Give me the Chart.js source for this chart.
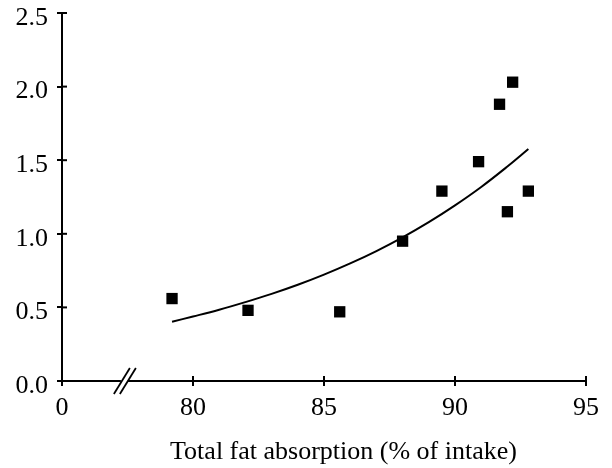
<!DOCTYPE html>
<html>
<head>
<meta charset="utf-8">
<script src="https://cdn.jsdelivr.net/npm/chart.js@4"></script>
<style>
  html, body { margin: 0; padding: 0; background: #fff; }
  #wrap { width: 612px; height: 468px; }
</style>
</head>
<body>
<div id="wrap"><canvas id="grafico" width="612" height="468"></canvas></div>
<script>
// Puntos medidos (absorción de grasa %, valor en eje Y)
const absorcion = [79.2, 82.1, 85.6, 88.0, 89.5, 90.9, 91.7, 92.2, 92.0, 92.8];
const valores   = [0.56, 0.48, 0.47, 0.95, 1.29, 1.49, 1.88, 2.03, 1.15, 1.29];

// Curva ajustada
const curvaX = [79.2, 80, 81, 82, 83, 84, 85, 86, 87, 88, 89, 90, 91, 92, 92.8];
const curvaY = [0.403, 0.438, 0.484, 0.536, 0.592, 0.654, 0.723, 0.799, 0.883, 0.976, 1.079, 1.193, 1.318, 1.457, 1.576];

// Marcas de los ejes
const ticksX = [75, 80, 85, 90, 95];
const etiquetasX = ['0', '80', '85', '90', '95'];
const ticksY = [0, 0.5, 1.0, 1.5, 2.0, 2.5];
const corteEje = 77.4; // posición del corte del eje X

const fuente = { family: 'Liberation Serif', size: 26 };

// Marcas hacia dentro y símbolo de corte
const ejesExtra = {
  id: 'ejesExtra',
  afterDraw(chart) {
    const ctx = chart.ctx;
    const x = chart.scales.x, y = chart.scales.y;
    const area = chart.chartArea;
    ctx.save();
    ctx.strokeStyle = '#000';
    ctx.lineWidth = 2;
    ticksX.slice(1).forEach(v => {
      const px = x.getPixelForValue(v);
      ctx.beginPath(); ctx.moveTo(px, area.bottom); ctx.lineTo(px, area.bottom - 5); ctx.stroke();
    });
    ticksY.forEach(v => {
      const py = y.getPixelForValue(v);
      ctx.beginPath(); ctx.moveTo(area.left, py); ctx.lineTo(area.left + 5, py); ctx.stroke();
    });
    // corte //
    const cx = x.getPixelForValue(corteEje);
    const cy = area.bottom;
    ctx.fillStyle = '#fff';
    ctx.fillRect(cx - 4, cy - 2, 7, 4);
    ctx.lineWidth = 1.8;
    [-3, 3].forEach(d => {
      ctx.beginPath();
      ctx.moveTo(cx + d - 8, cy + 13);
      ctx.lineTo(cx + d + 8, cy - 13);
      ctx.stroke();
    });
    ctx.restore();
  }
};

new Chart(document.getElementById('grafico'), {
  type: 'scatter',
  data: {
    datasets: [
      {
        label: 'datos',
        data: absorcion.map((v, i) => ({ x: v, y: valores[i] })),
        pointStyle: 'rect',
        pointRadius: 8,
        backgroundColor: '#000',
        borderColor: '#000',
        borderWidth: 0
      },
      {
        label: 'ajuste',
        type: 'line',
        data: curvaX.map((v, i) => ({ x: v, y: curvaY[i] })),
        borderColor: '#000',
        borderWidth: 2,
        pointRadius: 0,
        fill: false,
        tension: 0.4
      }
    ]
  },
  options: {
    responsive: false,
    animation: false,
    layout: { padding: { top: 13, right: 26, left: 0, bottom: 0 } },
    plugins: { legend: { display: false }, tooltip: { enabled: false } },
    scales: {
      x: {
        type: 'linear',
        min: 75,
        max: 95,
        afterBuildTicks: s => { s.ticks = ticksX.map(v => ({ value: v })); },
        afterFit: s => { s.height = 87; s.paddingLeft = 0; s.paddingRight = 0; },
        ticks: {
          color: '#000',
          font: fuente,
          padding: 7,
          maxRotation: 0,
          callback: (v) => etiquetasX[ticksX.indexOf(v)]
        },
        grid: { drawOnChartArea: false, tickLength: 5, color: '#000', lineWidth: 2 },
        border: { color: '#000', width: 2 },
        title: {
          display: true,
          text: '      Total fat absorption (% of intake)',
          color: '#000',
          font: fuente,
          padding: { top: 14, bottom: 0 }
        }
      },
      y: {
        min: 0,
        max: 2.5,
        afterBuildTicks: s => { s.ticks = ticksY.map(v => ({ value: v })); },
        afterFit: s => { s.width = 62; s.paddingTop = 0; s.paddingBottom = 0; },
        ticks: {
          color: '#000',
          font: fuente,
          padding: 9,
          labelOffset: 5,
          callback: (v) => v.toFixed(1)
        },
        grid: { drawOnChartArea: false, tickLength: 5, color: '#000', lineWidth: 2 },
        border: { color: '#000', width: 2 }
      }
    }
  },
  plugins: [ejesExtra]
});
</script>
</body>
</html>
